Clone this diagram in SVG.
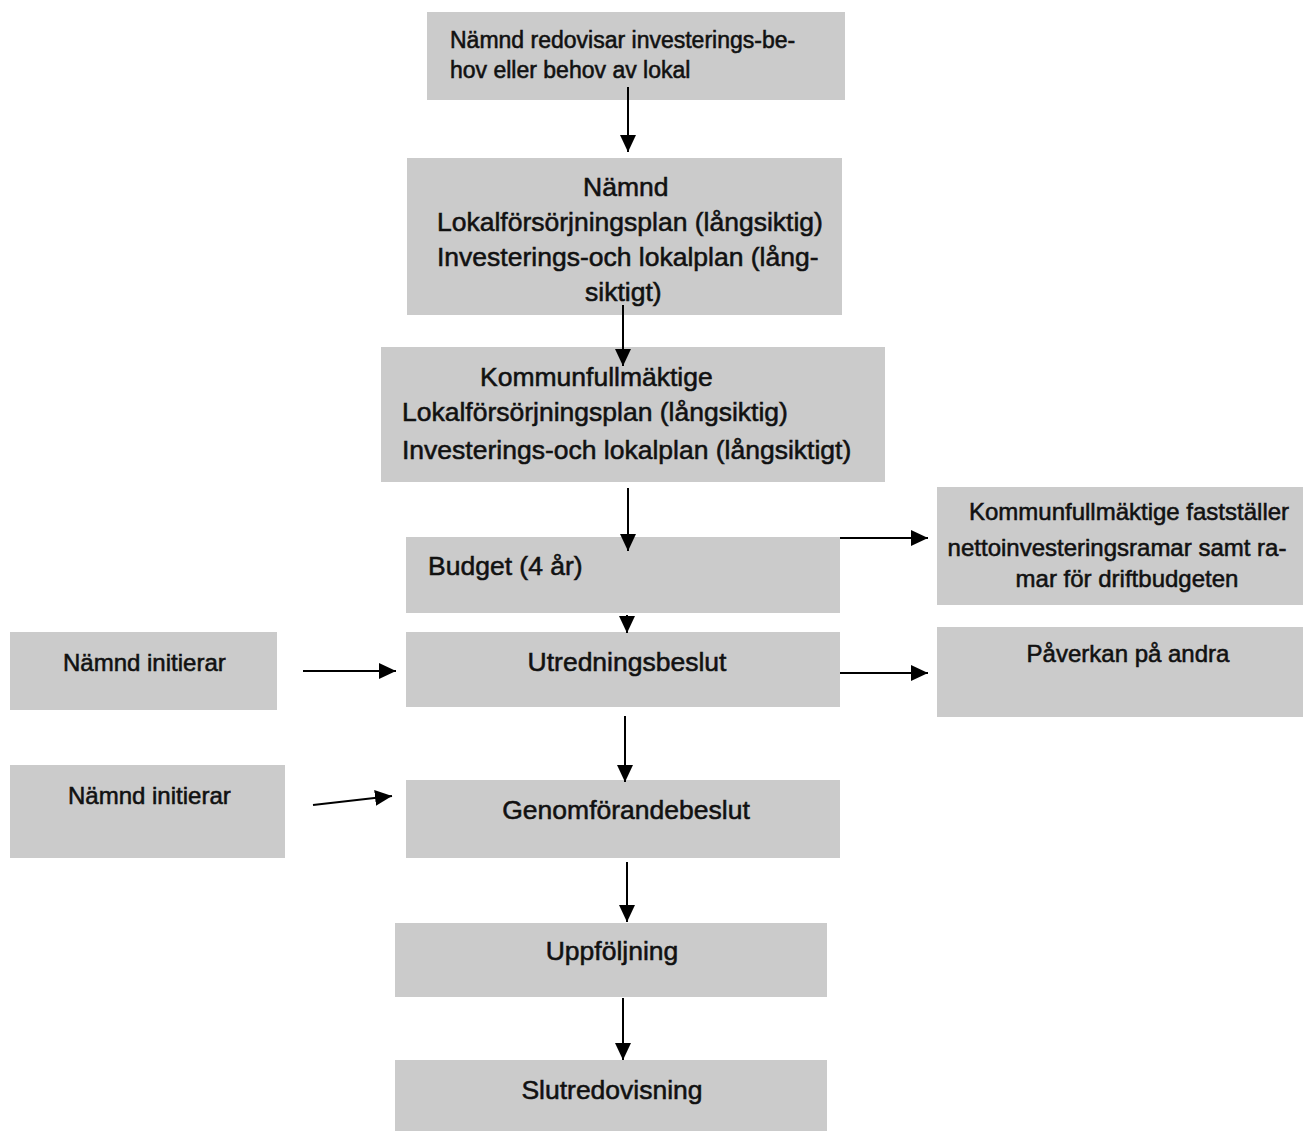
<svg xmlns="http://www.w3.org/2000/svg" width="1303" height="1131" viewBox="0 0 1303 1131">
<style>
.box{fill:#cbcbcb;}
text{font-family:"Liberation Sans",Arial,sans-serif;fill:#111;stroke:#111;stroke-width:0.55;}
.f23{font-size:23px;}
.f24{font-size:24px;}
.f26{font-size:26.5px;}
.c{text-anchor:middle;}
.con line{stroke:#000;stroke-width:2;fill:none;marker-end:url(#ah);}
</style>
<defs>
<marker id="ah" markerUnits="userSpaceOnUse" markerWidth="20" markerHeight="18" refX="17" refY="8" orient="auto">
<path d="M0,0 L17,8 L0,16 Z" fill="#000"/>
</marker>
</defs>
<rect width="1303" height="1131" fill="#fff"/>
<g id="n1"><rect class="box" x="427" y="12" width="418" height="88"/>
<text class="f23" x="450" y="48">Nämnd redovisar investerings-be-</text>
<text class="f23" x="450" y="78">hov eller behov av lokal</text></g>
<g id="n2"><rect class="box" x="407" y="158" width="435" height="157"/>
<text class="f26" x="583" y="196">Nämnd</text>
<text class="f26" x="437" y="231">Lokalförsörjningsplan (långsiktig)</text>
<text class="f26" x="437" y="266">Investerings-och lokalplan (lång-</text>
<text class="f26" x="585" y="301">siktigt)</text></g>
<g id="n3"><rect class="box" x="381" y="347" width="504" height="135"/>
<text class="f26" x="480" y="386">Kommunfullmäktige</text>
<text class="f26" x="402" y="421">Lokalförsörjningsplan (långsiktig)</text>
<text class="f26" x="402" y="459">Investerings-och lokalplan (långsiktigt)</text></g>
<g id="n4"><rect class="box" x="406" y="537" width="434" height="76"/>
<text class="f26" x="428" y="575">Budget (4 år)</text></g>
<g id="n5"><rect class="box" x="937" y="487" width="366" height="118"/>
<text class="f24 c" x="1129" y="520">Kommunfullmäktige fastställer</text>
<text class="f24 c" x="1117" y="556">nettoinvesteringsramar samt ra-</text>
<text class="f24 c" x="1127" y="587">mar för driftbudgeten</text></g>
<g id="n6"><rect class="box" x="10" y="632" width="267" height="78"/>
<text class="f24" x="63" y="671">Nämnd initierar</text></g>
<g id="n7"><rect class="box" x="406" y="632" width="434" height="75"/>
<text class="f26 c" x="627" y="671">Utredningsbeslut</text></g>
<g id="n8"><rect class="box" x="937" y="627" width="366" height="90"/>
<text class="f24 c" x="1128" y="662">Påverkan på andra</text></g>
<g id="n9"><rect class="box" x="10" y="765" width="275" height="93"/>
<text class="f24" x="68" y="804">Nämnd initierar</text></g>
<g id="n10"><rect class="box" x="406" y="780" width="434" height="78"/>
<text class="f26 c" x="626" y="819">Genomförandebeslut</text></g>
<g id="n11"><rect class="box" x="395" y="923" width="432" height="74"/>
<text class="f26 c" x="612" y="960">Uppföljning</text></g>
<g id="n12"><rect class="box" x="395" y="1060" width="432" height="71"/>
<text class="f26 c" x="612" y="1099">Slutredovisning</text></g>
<g id="connectors" class="con">
<line x1="628" y1="87" x2="628" y2="152"/>
<line x1="623" y1="305" x2="623" y2="366"/>
<line x1="628" y1="488" x2="628" y2="551"/>
<line x1="627" y1="615" x2="627" y2="633"/>
<line x1="625" y1="716" x2="625" y2="782"/>
<line x1="627" y1="862" x2="627" y2="922"/>
<line x1="623" y1="998" x2="623" y2="1060"/>
<line x1="840" y1="538" x2="928" y2="538"/>
<line x1="840" y1="673" x2="928" y2="673"/>
<line x1="303" y1="671" x2="396" y2="671"/>
<line x1="313" y1="805" x2="392" y2="796"/>
</g>
</svg>
